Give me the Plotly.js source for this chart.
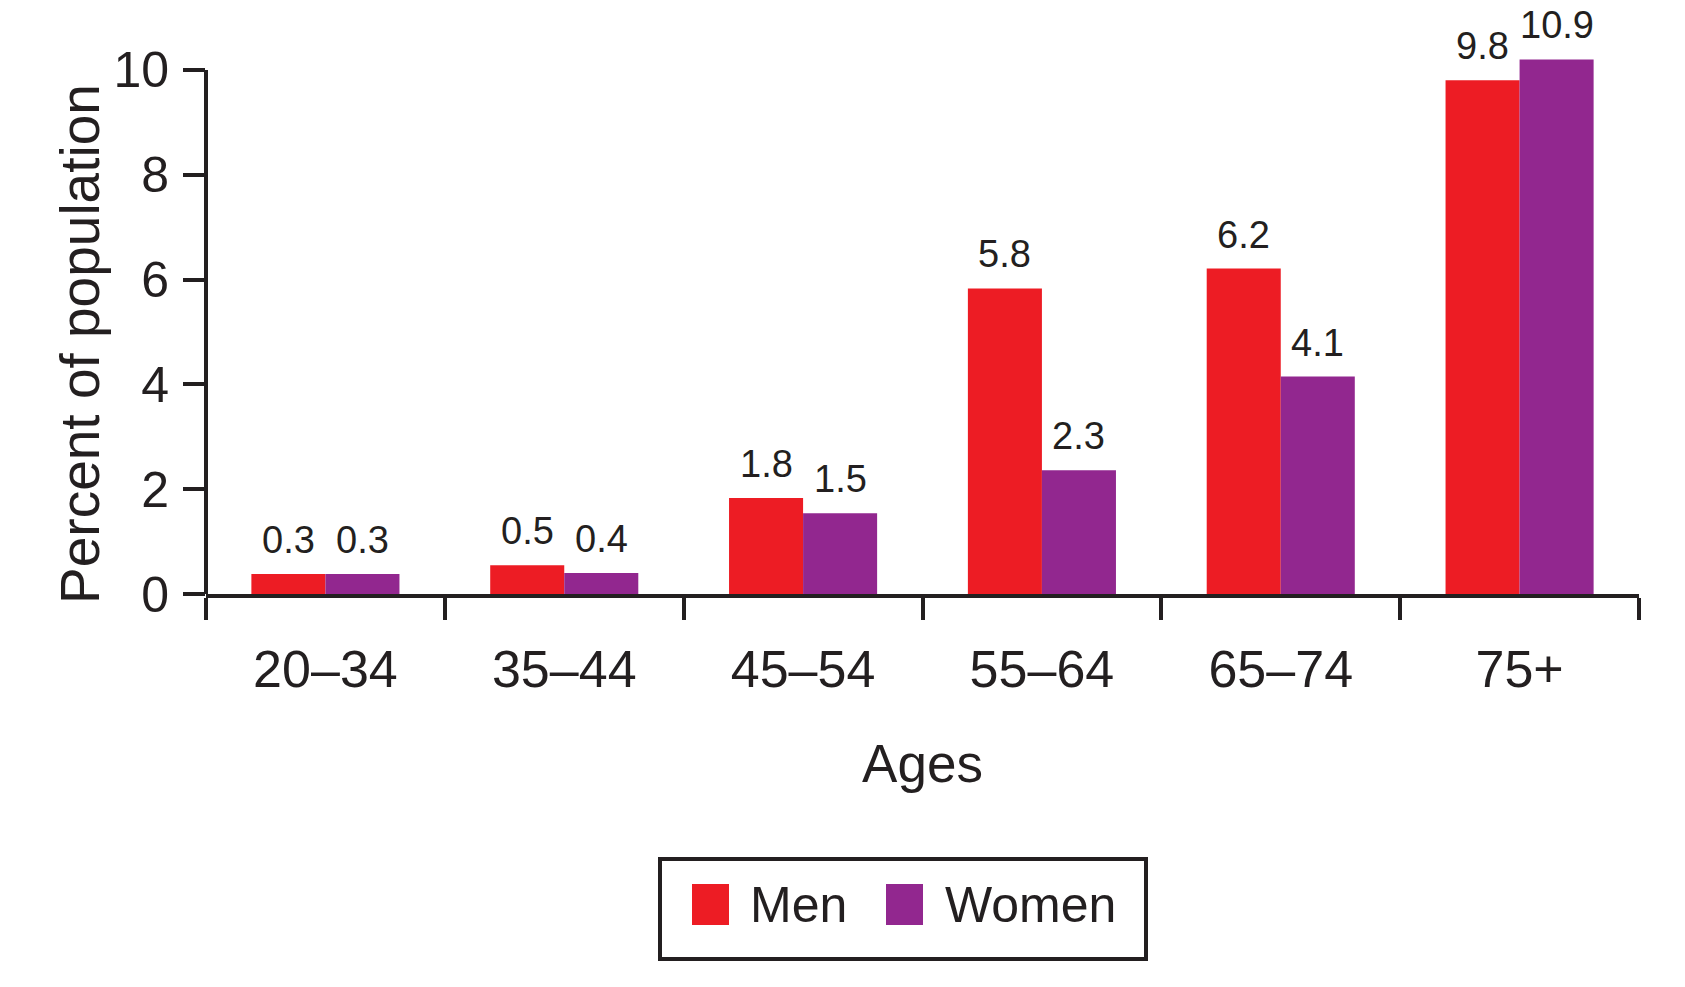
<!DOCTYPE html>
<html><head><meta charset="utf-8">
<script src="https://cdn.plot.ly/plotly-3.0.1.min.js"></script>
<style>html,body{margin:0;padding:0;background:#fff}#chart{width:1685px;height:987px}</style>
</head><body><div id="chart"></div>
<script>
// ---- data ----
const categories = ['20–34', '35–44', '45–54', '55–64', '65–74', '75+'];
const menValues = [0.38, 0.55, 1.83, 5.83, 6.21, 9.8];
const womenValues = [0.38, 0.40, 1.54, 2.36, 4.15, 10.2];
const menLabels = ['0.3', '0.5', '1.8', '5.8', '6.2', '9.8'];
const womenLabels = ['0.3', '0.4', '1.5', '2.3', '4.1', '10.9'];
const seriesNames = ['Men', 'Women'];
const seriesColors = ['#ED1C24', '#92278F'];
const yTickValues = [0, 2, 4, 6, 8, 10];
const xAxisTitle = 'Ages';
const yAxisTitle = 'Percent of population';

// ---- layout constants ----
const ink = '#231F20';
const FONT = '"Liberation Sans", Arial, Helvetica, sans-serif';
const W = 1685, H = 987;
const yMaxShown = 11.2;           // headroom so the tallest bar and labels are not clipped
const unitPx = 52.4;              // pixels per percent
const M = {l: 206, r: 46, b: 393};
M.t = H - M.b - yMaxShown * unitPx;
const plotW = W - M.l - M.r, plotH = H - M.t - M.b;
const px2x = px => (px - M.l) / plotW;
const px2y = py => (H - M.b - py) / plotH;
const bargap = 0.38;
const barOff = (1 - bargap) / 4;
const labelSize = 38;

const traces = [
  {type: 'bar', name: seriesNames[0], x: categories, y: menValues,
   marker: {color: seriesColors[0], line: {width: 0}}, hoverinfo: 'skip'},
  {type: 'bar', name: seriesNames[1], x: categories, y: womenValues,
   marker: {color: seriesColors[1], line: {width: 0}}, hoverinfo: 'skip'}
];

const annotations = [];
categories.forEach((c, i) => {
  annotations.push({x: i - barOff, y: menValues[i], xref: 'x', yref: 'y', text: menLabels[i],
    showarrow: false, yshift: 34, yanchor: 'middle', font: {size: labelSize, color: ink, family: FONT}});
  annotations.push({x: i + barOff, y: womenValues[i], xref: 'x', yref: 'y', text: womenLabels[i],
    showarrow: false, yshift: 34, yanchor: 'middle', font: {size: labelSize, color: ink, family: FONT}});
});

// y-axis title (centred on the 0–10 axis line)
annotations.push({xref: 'paper', yref: 'paper', x: px2x(80), y: px2y(344), xanchor: 'center', yanchor: 'middle',
  textangle: -90, text: yAxisTitle, showarrow: false, font: {size: 55, color: ink, family: FONT}});

// y-axis line from 0 to the top tick
const shapes = [
  {type: 'line', xref: 'paper', yref: 'y', x0: 0, x1: 0, y0: 0, y1: yTickValues[yTickValues.length - 1],
   line: {color: ink, width: 4}}
];

// manual legend (large swatches)
shapes.push({type: 'rect', xref: 'paper', yref: 'paper', x0: px2x(660), x1: px2x(1146), y0: px2y(959), y1: px2y(859),
  line: {color: ink, width: 4}, fillcolor: 'rgba(0,0,0,0)'});
const legendItems = [
  {sq: [692, 729], tx: 748},
  {sq: [886, 923], tx: 943}
];
legendItems.forEach((it, k) => {
  shapes.push({type: 'rect', xref: 'paper', yref: 'paper', x0: px2x(it.sq[0]), x1: px2x(it.sq[1]),
    y0: px2y(925), y1: px2y(884), line: {width: 0}, fillcolor: seriesColors[k]});
  annotations.push({xref: 'paper', yref: 'paper', x: px2x(it.tx), y: px2y(905), xanchor: 'left', yanchor: 'middle',
    text: seriesNames[k], showarrow: false, font: {size: 50, color: ink, family: FONT}});
});

const layout = {
  width: W, height: H,
  margin: M,
  paper_bgcolor: '#fff', plot_bgcolor: '#fff',
  font: {family: FONT, color: ink},
  showlegend: false,
  barmode: 'group', bargap: bargap, bargroupgap: 0,
  xaxis: {
    type: 'category', categoryorder: 'array', categoryarray: categories,
    range: [-0.5, categories.length - 0.5],
    tickson: 'boundaries', ticks: 'outside', ticklen: 22, tickwidth: 4, tickcolor: ink,
    showline: true, linewidth: 4, linecolor: ink,
    showgrid: false, zeroline: false,
    tickfont: {size: 52, color: ink, family: FONT},
    ticklabelstandoff: 27,
    title: {text: xAxisTitle, font: {size: 53, color: ink, family: FONT}, standoff: 48},
    fixedrange: true
  },
  yaxis: {
    range: [0, yMaxShown], tickvals: yTickValues, ticktext: yTickValues.map(String),
    ticks: 'outside', ticklen: 22, tickwidth: 4, tickcolor: ink,
    showline: false,
    showgrid: false, zeroline: false,
    tickfont: {size: 50, color: ink, family: FONT},
    ticklabelstandoff: 4,
    fixedrange: true
  },
  shapes: shapes,
  annotations: annotations
};

Plotly.newPlot('chart', traces, layout, {displayModeBar: false, staticPlot: true});
</script>
</body></html>
